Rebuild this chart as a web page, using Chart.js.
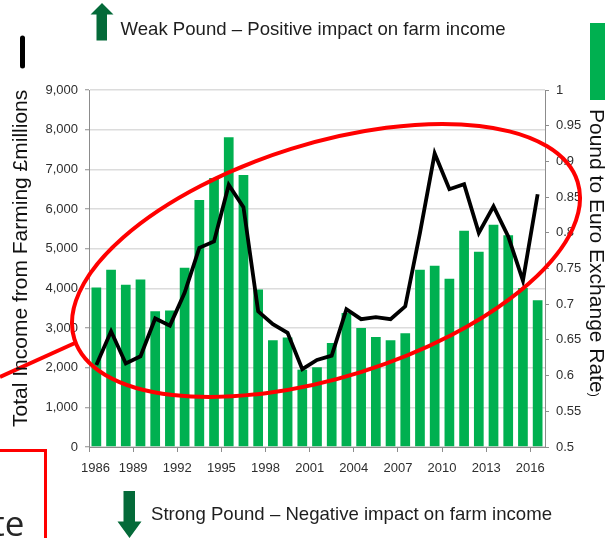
<!DOCTYPE html>
<html>
<head>
<meta charset="utf-8">
<script src="https://cdn.jsdelivr.net/npm/chart.js@4.4.1/dist/chart.umd.min.js"></script>
<style>
  html, body { margin: 0; padding: 0; background: #fff; }
  #wrap { position: relative; width: 610px; height: 538px; overflow: hidden; font-family: "Liberation Sans", Arial, sans-serif; }
  #c { position: absolute; left: 0; top: 0; }
  svg { position: absolute; left: 0; top: 0; }
  .t { position: absolute; white-space: nowrap; color: #1e1e1e; line-height: 1; }
</style>
</head>
<body>
<div id="wrap">
  <canvas id="c" width="610" height="538"></canvas>
  <svg width="610" height="538" viewBox="0 0 610 538">
    <ellipse cx="326" cy="260.5" rx="263.6" ry="116.9" transform="rotate(-17.35 326 260.5)" fill="none" stroke="#ff0000" stroke-width="4"/>
    <line x1="0" y1="377" x2="75" y2="343" stroke="#ff0000" stroke-width="4"/>
    <rect x="-10" y="450.5" width="55.5" height="100" fill="none" stroke="#ff0000" stroke-width="3"/>
    <polygon points="102,3 113.5,14.5 107,14.5 107,40.5 96.5,40.5 96.5,14.5 90.5,14.5" fill="#046a39"/>
    <polygon points="123.5,491 135,491 135,521.5 141.5,521.5 129.5,538 117.5,521.5 123.5,521.5" fill="#046a39"/>
    <rect x="590" y="23" width="15" height="77" fill="#00b050"/>
    <line x1="22.5" y1="38" x2="22.5" y2="66" stroke="#000" stroke-width="5" stroke-linecap="round"/>
  </svg>
  <div class="t" style="left:120.5px; top:20.3px; font-size:18.6px;">Weak Pound – Positive impact on farm income</div>
  <div class="t" style="left:151px; top:505.3px; font-size:18.6px;">Strong Pound – Negative impact on farm income</div>
  <div class="t" style="left:9.2px; top:427px; font-size:21px; color:#111; transform-origin:0 0; transform:rotate(-90deg);">Total Income from Farming £millions</div>
  <div class="t" style="left:607.8px; top:109px; font-size:21px; color:#111; transform-origin:0 0; transform:rotate(90deg);">Pound to Euro Exchange Rate<span style="font-size:12px;">)</span></div>
  <div class="t" style="right:585.5px; top:505px; font-size:35px; color:#262626; font-family:'Open Sans', sans-serif; text-align:right;">te</div>
</div>
<script>
// ---- data ----
const years = ['1986','1987','1988','1989','1990','1991','1992','1993','1994','1995','1996',
               '1997','1998','1999','2000','2001','2002','2003','2004','2005','2006','2007',
               '2008','2009','2010','2011','2012','2013','2014','2015','2016'];
const farmIncome = [4020, 4470, 4090, 4220, 3420, 3440, 4520, 6230, 6780, 7810, 6860,
                    3970, 2690, 2760, 1950, 2010, 2620, 3380, 3000, 2770, 2690, 2870,
                    4470, 4570, 4240, 5450, 4920, 5600, 5340, 4010, 3700];
const poundEuro = [0.615, 0.662, 0.617, 0.627, 0.680, 0.670, 0.716, 0.779, 0.788, 0.867, 0.836,
                   0.690, 0.672, 0.660, 0.609, 0.622, 0.628, 0.693, 0.679, 0.682, 0.679, 0.697,
                   0.800, 0.911, 0.861, 0.868, 0.800, 0.837, 0.795, 0.733, 0.854];
const yearTickLabels = ['1986','1989','1992','1995','1998','2001','2004','2007','2010','2013','2016'];
const yearTickPositions = [0, 3, 6, 9, 12, 15, 18, 21, 24, 27, 30];

const tickFont = { family: "'Liberation Sans', Arial, sans-serif", size: 13 };
const tickColor = '#2e2e2e';
const axisGray = '#8c8c8c';

new Chart(document.getElementById('c'), {
  type: 'bar',
  data: {
    labels: years,
    datasets: [
      {
        type: 'line',
        label: 'Pound to Euro Exchange Rate',
        data: poundEuro,
        xAxisID: 'x',
        yAxisID: 'y1',
        borderColor: '#000000',
        borderWidth: 3.8,
        pointRadius: 0,
        tension: 0,
        fill: false,
        order: 1
      },
      {
        type: 'bar',
        label: 'Total Income from Farming £millions',
        data: farmIncome,
        xAxisID: 'x',
        yAxisID: 'y',
        backgroundColor: '#00b050',
        barPercentage: 0.66,
        categoryPercentage: 1.0,
        order: 2
      }
    ]
  },
  options: {
    responsive: false,
    animation: false,
    devicePixelRatio: 1,
    layout: { padding: { top: 90, left: 0, right: 0, bottom: 0 } },
    plugins: { legend: { display: false }, tooltip: { enabled: false }, title: { display: false } },
    scales: {
      x: { type: 'category', display: false, offset: true },
      xt: {
        type: 'linear', position: 'bottom', min: 0, max: 31, offset: false,
        afterBuildTicks: (s) => { s.ticks = yearTickPositions.map(v => ({ value: v })); },
        afterFit: (s) => { s.height = 91; },
        ticks: {
          autoSkip: false, maxRotation: 0, padding: 9, font: tickFont, color: tickColor,
          callback: (v, i) => (i === 0 ? '\u2002\u2002' : '') + yearTickLabels[i]
        },
        grid: { offset: false, drawOnChartArea: false, drawTicks: true, tickLength: 5, tickColor: axisGray },
        border: { color: axisGray, width: 1 }
      },
      y: {
        type: 'linear', position: 'left', min: 0, max: 9000,
        afterFit: (s) => { s.width = 89; },
        ticks: { stepSize: 1000, padding: 7, font: tickFont, color: tickColor,
                 callback: (v) => v.toLocaleString('en-US') },
        grid: { color: '#dcdcdc', lineWidth: 1.5, drawTicks: true, tickLength: 4, tickColor: axisGray, tickWidth: 1 },
        border: { color: axisGray, width: 1 }
      },
      y1: {
        type: 'linear', position: 'right', min: 0.5, max: 1,
        afterFit: (s) => { s.width = 65; },
        ticks: { stepSize: 0.05, padding: 7, font: tickFont, color: tickColor,
                 callback: (v) => String(+v.toFixed(2)) },
        grid: { drawOnChartArea: false, drawTicks: true, tickLength: 4, tickColor: axisGray },
        border: { color: axisGray, width: 1 }
      }
    }
  }
});
</script>
</body>
</html>
